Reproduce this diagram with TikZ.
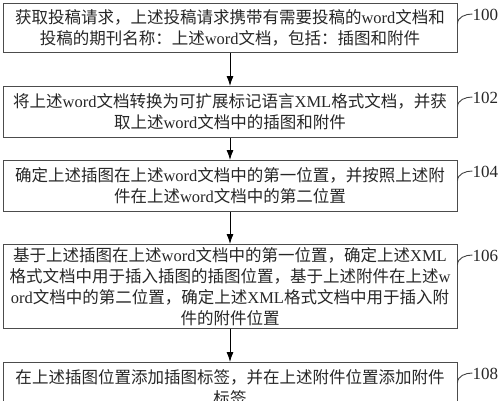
\documentclass[tikz,border=0pt]{standalone}
\usepackage{fontspec}
\setmainfont{Noto Sans CJK SC}
\newfontfamily\latinfont{Liberation Serif}
\newcommand\en[1]{{\latinfont #1}}
\usetikzlibrary{arrows.meta}
\tikzset{
  stepbox/.style={draw=black!70, line width=0.9pt, minimum width=454pt,
                  inner sep=0pt, align=center, anchor=north, text=black!85,
                  font=\fontsize{16.5}{21}\selectfont},
  steplabel/.style={font=\latinfont\fontsize{17}{17}\selectfont,
                    inner sep=0pt, anchor=west, text=black!85},
  flow/.style={-{Latex[length=10pt,width=7pt]}, line width=0.9pt},
  tick/.style={line width=0.9pt, black!75}
}
\begin{document}
\begin{tikzpicture}[
  x=1pt,
  y=-1pt,
]
\useasboundingbox (0,0) rectangle (503,400);

\foreach \n/\top/\h/\t in
  {100/3/49/{获取投稿请求，上述投稿请求携带有需要投稿的\en{word}文档和\\投稿的期刊名称：上述\en{word}文档，包括：插图和附件},
   102/86/51/{将上述\en{word}文档转换为可扩展标记语言\en{XML}格式文档，并获\\取上述\en{word}文档中的插图和附件},
   104/160/51/{确定上述插图在上述\en{word}文档中的第一位置，并按照上述附\\件在上述\en{word}文档中的第二位置},
   106/244/84/{基于上述插图在上述\en{word}文档中的第一位置，确定上述\en{XML}\\格式文档中用于插入插图的插图位置，基于上述附件在上述\en{w}\\\en{ord}文档中的第二位置，确定上述\en{XML}格式文档中用于插入附\\件的附件位置},
   108/362/50/{在上述插图位置添加插图标签，并在上述附件位置添加附件\\标签}}
  {
   \node [stepbox, minimum height=\h pt, name=step-\n] at (230,\top) {\t};
   \node [steplabel, name=num-\n]
         at ([xshift=15pt,yshift=-12pt]step-\n.north east) {\n};
   \draw [tick] ([yshift=-21pt]step-\n.north east)
         to[out=90,in=180] ([yshift=1pt]num-\n.west);
  }

\foreach \a/\b in {100/102, 102/104, 104/106, 106/108}
  \draw [flow] (step-\a) -- (step-\b);

\end{tikzpicture}
\end{document}
